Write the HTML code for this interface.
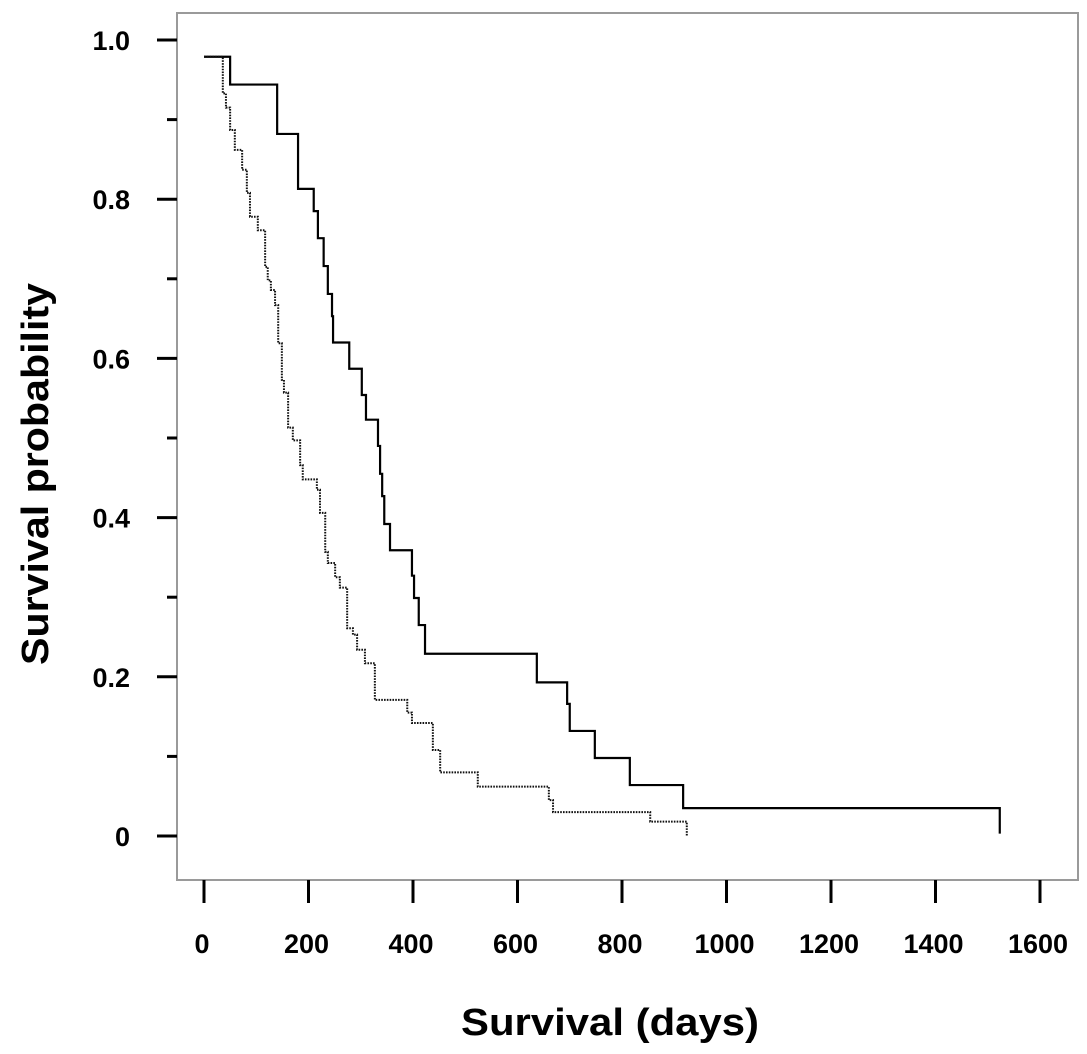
<!DOCTYPE html>
<html><head><meta charset="utf-8"><style>
html,body{margin:0;padding:0;background:#fff;}
svg{display:block;font-family:"Liberation Sans",Arial,sans-serif;font-weight:bold;}
</style></head><body>
<svg id="chart" width="1087" height="1054" viewBox="0 0 1087 1054" xmlns="http://www.w3.org/2000/svg">
<rect x="177" y="13" width="901" height="867" fill="none" stroke="#9a9a9a" stroke-width="2"/>
<g id="axes"></g>
<g id="series"></g>
<text x="610" y="1035" text-anchor="middle" font-size="38" textLength="298" lengthAdjust="spacingAndGlyphs">Survival (days)</text>
<text x="0" y="0" transform="translate(48,474) rotate(-90)" text-anchor="middle" font-size="38" textLength="382" lengthAdjust="spacingAndGlyphs">Survival probability</text>
</svg>
<script>
const xTicks=[0,200,400,600,800,1000,1200,1400,1600];
const yTicks=[0,0.2,0.4,0.6,0.8,1.0];
const yTickLabels=["0","0.2","0.4","0.6","0.8","1.0"];
const yMinorTicks=[0.1,0.3,0.5,0.7,0.9];
const solidDays=[0,50,140,180,210,218,229,237,245,247,278,302,310,333,337,341,345,356,398,402,411,423,637,695,700,748,815,917,1523];
const solidProb=[0.979,0.944,0.882,0.813,0.785,0.751,0.716,0.681,0.653,0.62,0.587,0.554,0.523,0.49,0.455,0.427,0.392,0.359,0.327,0.299,0.265,0.229,0.193,0.166,0.132,0.098,0.064,0.035,0.003];
const dotDays=[0,36,42,50,59,73,82,88,103,117,122,128,136,142,149,153,161,170,184,189,216,222,232,237,251,260,274,285,293,308,327,389,398,438,452,524,660,668,854,924];
const dotProb=[0.979,0.933,0.915,0.887,0.862,0.837,0.808,0.778,0.761,0.715,0.698,0.686,0.667,0.619,0.573,0.557,0.513,0.497,0.466,0.448,0.435,0.406,0.357,0.343,0.325,0.312,0.261,0.253,0.234,0.217,0.171,0.155,0.142,0.108,0.080,0.062,0.045,0.030,0.018,0.0];
const NS="http://www.w3.org/2000/svg";
function xs(d){return 204+d*0.5225;}
function ys(p){return 836-p*796;}
const axes=document.getElementById('axes');
const series=document.getElementById('series');
function mk(tag,attrs,parent){const e=document.createElementNS(NS,tag);for(const k in attrs)e.setAttribute(k,attrs[k]);parent.appendChild(e);return e;}
xTicks.forEach(function(t){
  const l=mk('line',{x1:xs(t),x2:xs(t),y1:880,y2:903,stroke:'#000','stroke-width':3},axes);
  
  
  const tx=mk('text',{x:xs(t)-2,y:953,'text-anchor':'middle','font-size':27},axes);
  tx.textContent=String(t);
  
  
});
yTicks.forEach(function(t,i){
  const l=mk('line',{x1:157,x2:177,y1:ys(t),y2:ys(t),stroke:'#000','stroke-width':3},axes);
  
  
  const tx=mk('text',{x:130,y:ys(t)+10,'text-anchor':'end','font-size':27},axes);
  tx.textContent=yTickLabels[i];
  
  
});
yMinorTicks.forEach(function(t){
  const l=mk('line',{x1:167,x2:177,y1:ys(t),y2:ys(t),stroke:'#000','stroke-width':3},axes);
  
  
});
function stepPath(days,probs){
  let d='M'+xs(days[0])+' '+ys(probs[0]);
  for(let i=1;i<days.length;i++){d+=' H'+xs(days[i])+' V'+ys(probs[i]);}
  return d;
}
const s=mk('path',{d:stepPath(solidDays,solidProb),fill:'none',stroke:'#000','stroke-width':2.2},series);


const dt=mk('path',{d:stepPath(dotDays,dotProb),fill:'none',stroke:'#111','stroke-width':2,'stroke-dasharray':'1.6 1.2'},series);


</script>
</body></html>
